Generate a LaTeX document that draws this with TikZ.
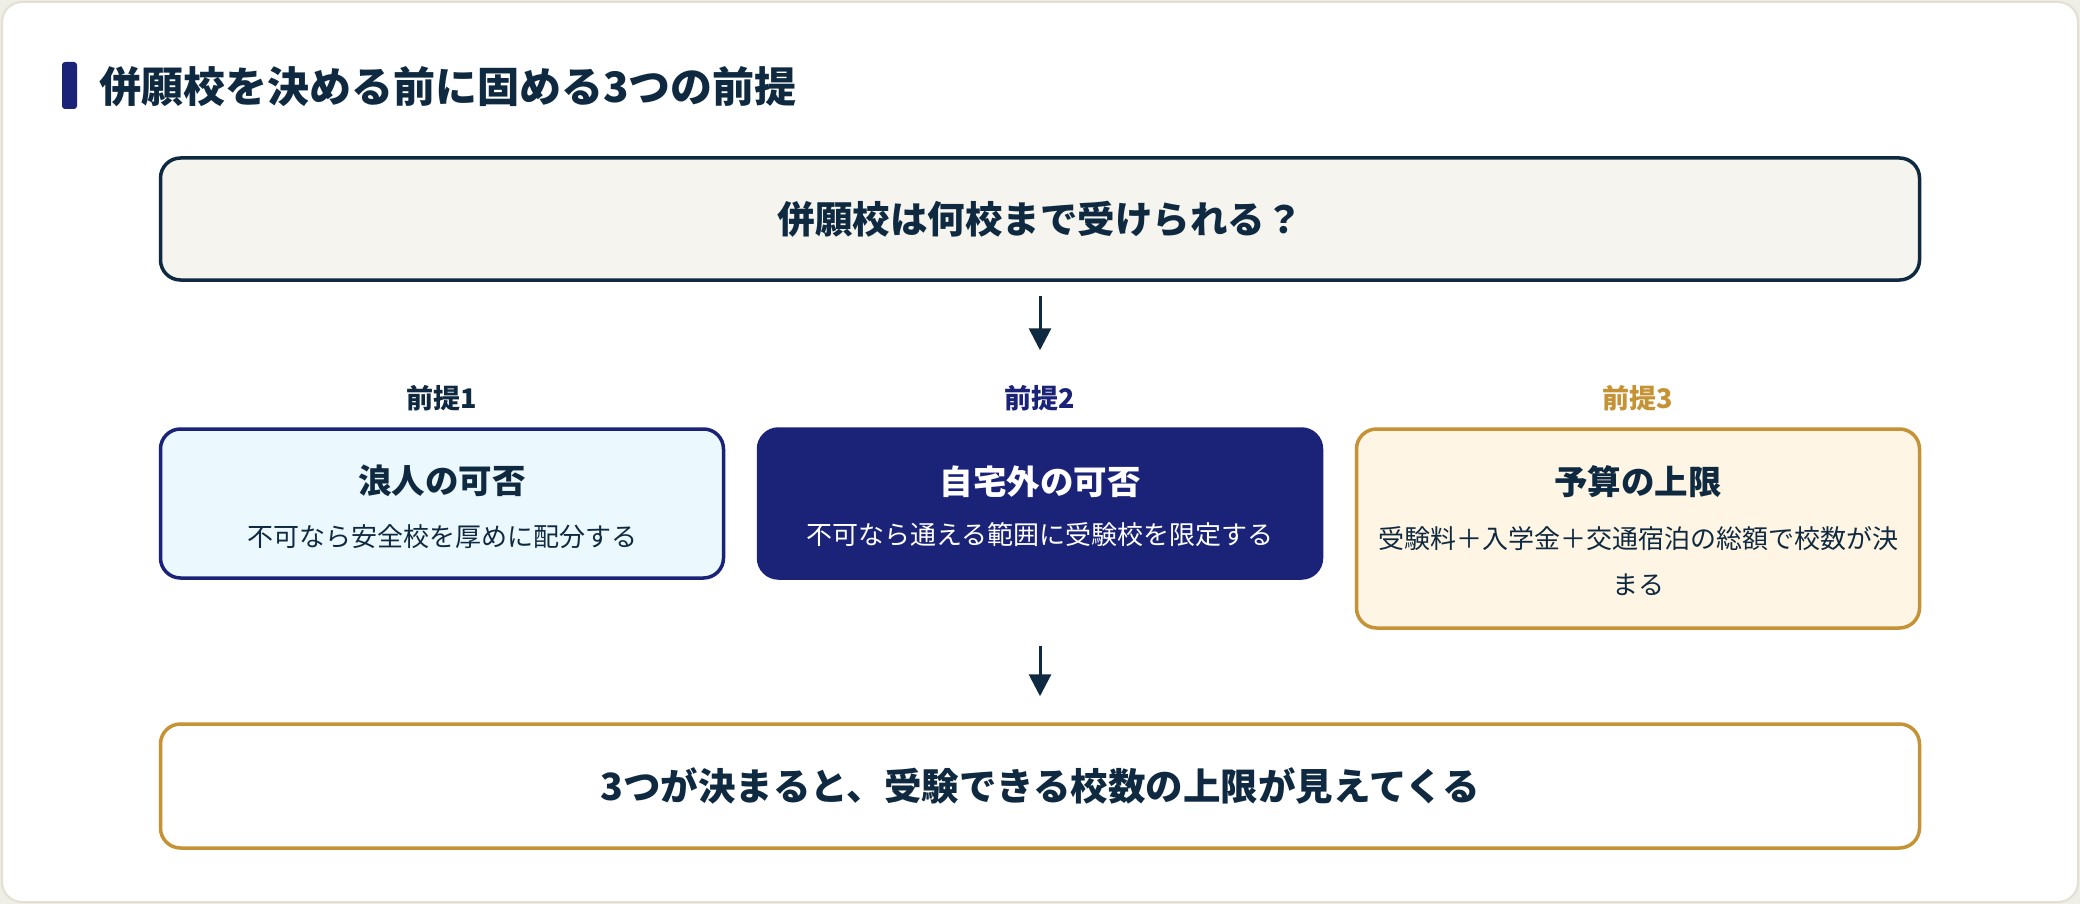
\documentclass[tikz,border=0pt]{standalone}
\usepackage{fontspec}
\setmainfont{Noto Sans CJK JP}
\usetikzlibrary{arrows.meta,positioning}
\definecolor{ink}{HTML}{0F2A40}
\definecolor{indigo}{HTML}{1B2379}
\definecolor{gold}{HTML}{C59236}
\definecolor{paper}{HTML}{EEEDE6}
\definecolor{cardline}{HTML}{E2DFD3}
\definecolor{qfill}{HTML}{F5F4EF}
\definecolor{bluefill}{HTML}{EBF8FD}
\definecolor{goldfill}{HTML}{FFF5E4}

\tikzset{
  box/.style={draw, rectangle, rounded corners=20, line width=3.5, minimum width=563, inner sep=0},
  wide/.style={draw, rectangle, rounded corners=20, line width=3.5, minimum width=1759, inner sep=0, text=ink, font=\bfseries\fontsize{37.5}{44}\selectfont},
  ttl/.style={font=\bfseries\fontsize{33.5}{40}\selectfont, text=ink},
  sub/.style={font=\fontsize{26}{46}\selectfont, text=ink, align=center},
  tag/.style={font=\bfseries\fontsize{27}{32}\selectfont},
  arr/.style={-{Triangle[length=22, width=22]}, line width=3, draw=ink},
}

\begin{document}
\begin{tikzpicture}[x=1pt, y=-1pt]
	% page and card
	\fill[paper] (0,0) rectangle (2080,904);
	\useasboundingbox (0,0) rectangle (2080,904);
	\draw[cardline, fill=white, line width=2, rounded corners=20] (2,2) rectangle (2078,902);

	% heading with its bar
	\fill[indigo, rounded corners=3] (62,62) rectangle (77,109);
	\node[anchor=west, inner sep=0, text=ink, font=\bfseries\fontsize{42}{50}\selectfont] (head) at (99,87) {併願校を決める前に固める3つの前提};

	% the question on top
	\node[wide, fill=qfill, draw=ink, minimum height=122] (q) at (1040,219) {併願校は何校まで受けられる？};

	% the three premises
	\node[box, draw=indigo, fill=bluefill, minimum height=149] (p1) at (442,503.5) {};
	\node[box, draw=indigo, fill=indigo, minimum height=149] (p2) at (1040,503.5) {};
	\node[box, draw=gold, fill=goldfill, minimum height=199] (p3) at (1638,528.5) {};

	\node[tag, text=ink] (tag1) at (442,398) {前提1};
	\node[tag, text=indigo] (tag2) at (1040,398) {前提2};
	\node[tag, text=gold] (tag3) at (1638,398) {前提3};

	\node[ttl] (t1) at ([yshift=-54]p1.north) {浪人の可否};
	\node[sub] (s1) at ([yshift=-109]p1.north) {不可なら安全校を厚めに配分する};
	\node[ttl, text=white] (t2) at ([yshift=-54]p2.north) {自宅外の可否};
	\node[sub, text=white] (s2) at ([yshift=-107]p2.north) {不可なら通える範囲に受験校を限定する};
	\node[ttl] (t3) at ([yshift=-54]p3.north) {予算の上限};
	\node[sub] (s3) at ([yshift=-134]p3.north) {受験料＋入学金＋交通宿泊の総額で校数が決\\まる};

	% the result at the bottom
	\node[wide, fill=white, draw=gold, minimum height=124] (res) at (1040,786) {3つが決まると、受験できる校数の上限が見えてくる};

	% arrows
	\draw[arr, shorten <=14, shorten >=77] (q.south) -- (p2.north);
	\draw[arr, shorten <=66, shorten >=26] (p2.south) -- (res.north);
\end{tikzpicture}
\end{document}
